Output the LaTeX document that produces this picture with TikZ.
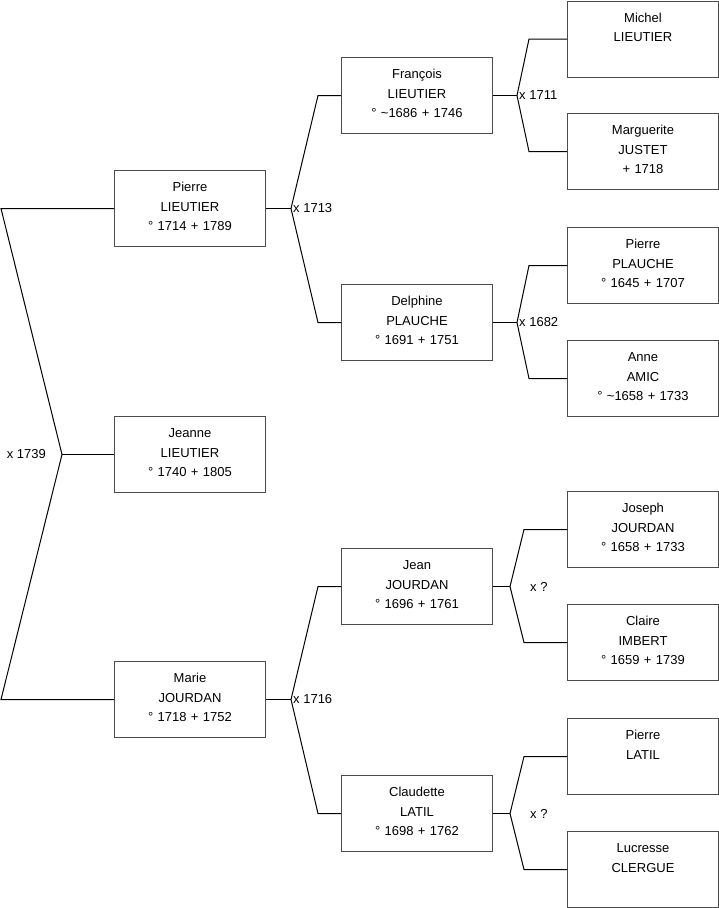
\documentclass[tikz,border=0pt]{standalone}
\usepackage{fontspec}
\setmainfont{Liberation Sans}
\usepackage{tikz}

\definecolor{boxline}{gray}{0.3}

\tikzset{
    person/.style={draw=boxline, line width=1pt, rectangle, anchor=north west,
        minimum width=151pt, minimum height=76pt, inner sep=0pt,
        text width=151pt, align=center, text height=21pt, text depth=55pt,
        font=\fontsize{13}{19.5}\selectfont},
    link/.style={line width=1pt, black},
    wed/.style={font=\fontsize{13}{15}\selectfont, inner sep=1pt}
}

\begin{document}
\begin{tikzpicture}[x=1pt,y=-1pt]
    \useasboundingbox (0,0) rectangle (719,908);

    % Child
    \node[person] (jeanne) at (114,416) {Jeanne\\LIEUTIER\\° 1740 + 1805};

    % Parents
    \node[person] (pierre) at (114,170) {Pierre\\LIEUTIER\\° 1714 + 1789};
    \node[person] (marie) at (114,661) {Marie\\JOURDAN\\° 1718 + 1752};

    % Grandparents
    \node[person] (francois) at (341,57) {François\\LIEUTIER\\° \textasciitilde1686 + 1746};
    \node[person] (delphine) at (341,284) {Delphine\\PLAUCHE\\° 1691 + 1751};
    \node[person] (jean) at (341,548) {Jean\\JOURDAN\\° 1696 + 1761};
    \node[person] (claudette) at (341,775) {Claudette\\LATIL\\° 1698 + 1762};

    % Great-grandparents
    \node[person] (michel) at (567,0.5) {Michel\\LIEUTIER};
    \node[person] (marguerite) at (567,113) {Marguerite\\JUSTET\\+ 1718};
    \node[person] (pierrep) at (567,227) {Pierre\\PLAUCHE\\° 1645 + 1707};
    \node[person] (anne) at (567,340) {Anne\\AMIC\\° \textasciitilde1658 + 1733};
    \node[person] (joseph) at (567,491) {Joseph\\JOURDAN\\° 1658 + 1733};
    \node[person] (claire) at (567,604) {Claire\\IMBERT\\° 1659 + 1739};
    \node[person] (pierrel) at (567,718) {Pierre\\LATIL};
    \node[person] (lucresse) at (567,831) {Lucresse\\CLERGUE};

    % Fork points
    \coordinate (m1) at (62,0 |- jeanne.west);
    \coordinate (m1a) at (1,0 |- pierre.west);
    \coordinate (m1b) at (1,0 |- marie.west);
    \coordinate (m2) at (291,0 |- pierre.east);
    \coordinate (m2a) at (318,0 |- francois.west);
    \coordinate (m2b) at (318,0 |- delphine.west);
    \coordinate (m3) at (291,0 |- marie.east);
    \coordinate (m3a) at (318,0 |- jean.west);
    \coordinate (m3b) at (318,0 |- claudette.west);
    \coordinate (m4) at (517,0 |- francois.east);
    \coordinate (m4a) at (529,0 |- michel.west);
    \coordinate (m4b) at (529,0 |- marguerite.west);
    \coordinate (m5) at (517,0 |- delphine.east);
    \coordinate (m5a) at (529,0 |- pierrep.west);
    \coordinate (m5b) at (529,0 |- anne.west);
    \coordinate (m6) at (510,0 |- jean.east);
    \coordinate (m6a) at (524,0 |- joseph.west);
    \coordinate (m6b) at (524,0 |- claire.west);
    \coordinate (m7) at (510,0 |- claudette.east);
    \coordinate (m7a) at (524,0 |- pierrel.west);
    \coordinate (m7b) at (524,0 |- lucresse.west);

    % Connectors
    \draw[link] (pierre.west) -- (m1a) -- (m1) -- (m1b) -- (marie.west);
    \draw[link] (m1) -- (jeanne.west);
    \draw[link] (pierre.east) -- (m2);
    \draw[link] (francois.west) -- (m2a) -- (m2) -- (m2b) -- (delphine.west);
    \draw[link] (marie.east) -- (m3);
    \draw[link] (jean.west) -- (m3a) -- (m3) -- (m3b) -- (claudette.west);
    \draw[link] (francois.east) -- (m4);
    \draw[link] (michel.west) -- (m4a) -- (m4) -- (m4b) -- (marguerite.west);
    \draw[link] (delphine.east) -- (m5);
    \draw[link] (pierrep.west) -- (m5a) -- (m5) -- (m5b) -- (anne.west);
    \draw[link] (jean.east) -- (m6);
    \draw[link] (joseph.west) -- (m6a) -- (m6) -- (m6b) -- (claire.west);
    \draw[link] (claudette.east) -- (m7);
    \draw[link] (pierrel.west) -- (m7a) -- (m7) -- (m7b) -- (lucresse.west);

    % Marriages
    \node[wed, anchor=east] (w1) at ([xshift=-15pt]m1) {x 1739};
    \node[wed, anchor=west] (w2) at ([xshift=1pt]m2) {x 1713};
    \node[wed, anchor=west] (w3) at ([xshift=1pt]m3) {x 1716};
    \node[wed, anchor=west] (w4) at ([xshift=1pt]m4) {x 1711};
    \node[wed, anchor=west] (w5) at ([xshift=1pt]m5) {x 1682};
    \node[wed, anchor=west] (w6) at ([xshift=19pt]m6) {x ?};
    \node[wed, anchor=west] (w7) at ([xshift=19pt]m7) {x ?};
\end{tikzpicture}
\end{document}
